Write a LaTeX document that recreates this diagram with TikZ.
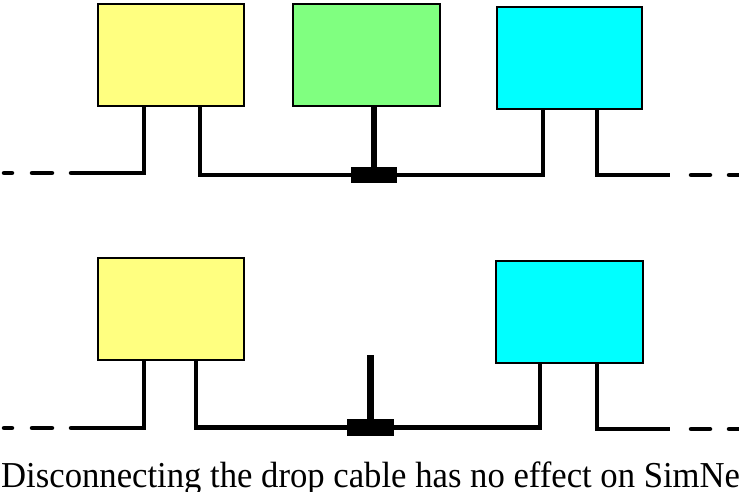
\documentclass[tikz,border=0pt]{standalone}
\usepackage{fontspec}
\setmainfont{Liberation Serif}
\usetikzlibrary{calc}
\definecolor{stationyellow}{HTML}{FFFF80}
\definecolor{stationgreen}{HTML}{80FF80}
\definecolor{stationcyan}{HTML}{00FFFF}
\tikzset{
  station/.style={draw, line width=2pt, inner sep=0pt, minimum width=146pt, minimum height=102pt},
  cable/.style={line width=4.5pt},
  dropcable/.style={line width=6.5pt},
  tap/.style={fill=black, inner sep=0pt, minimum width=46pt, minimum height=16pt}
}
\begin{document}
\begin{tikzpicture}[x=1pt,y=-1pt]
\useasboundingbox (0,0) rectangle (739,492);
\clip (0,0) rectangle (739,492);
% connected station
\node [station, fill=stationyellow] (ya) at (171,55.5){};
\node [station, fill=stationgreen, minimum width=147pt] (ga) at (366.5,55.5){};
\node [station, fill=stationcyan, minimum width=145pt] (ca) at (569.5,58){};
\node [tap] (tapa) at (374,175){};
\coordinate (la) at (88,173);
\coordinate (ra) at (670,175);
\draw [cable] ($(ya.south west)+(47,0)$) |- (la);
\draw [cable] ($(ya.south west)+(103,0)$) |- (tapa.west);
\draw [cable] (tapa.east) -| ($(ca.south west)+(47,0)$);
\draw [cable] ($(ca.south west)+(101,0)$) |- (ra);
\draw [dropcable] (tapa.north |- ga.south) -- (tapa.north);
\draw [cable, line cap=round] (4,173)--(12,173) (32,173)--(52,173) (71,173)--(88,173);
\draw [cable, line cap=round] (691,175)--(710,175) (729,175)--(745,175);

% disconnected drop cable
\node [station, fill=stationyellow] (yb) at (171,309){};
\node [station, fill=stationcyan, minimum width=147pt] (cb) at (569.5,312){};
\node [tap, minimum width=47pt, minimum height=17pt] (tapb) at (370.5,427.5){};
\coordinate (lb) at (88,428);
\coordinate (rb) at (670,429);
\coordinate (endb) at (370.5,355);
\draw [cable] ($(yb.south west)+(47,0)$) |- (lb);
\draw [cable] ($(yb.south west)+(99,0)$) |- (tapb.west);
\draw [cable] (tapb.east) -| ($(cb.south west)+(45,0)$);
\draw [cable] ($(cb.south west)+(102,0)$) |- (rb);
\draw [dropcable] (endb) -- (tapb.north);
\draw [cable, line cap=round] (4,428)--(12,428) (32,428)--(52,428) (71,428)--(88,428);
\draw [cable, line cap=round] (691,429)--(710,429) (729,429)--(745,429);

\node [anchor=base west, inner sep=0pt, font=\fontsize{36.5}{40}\selectfont] (caption) at (1,487) {\scalebox{0.95}[1]{Disconnecting the drop cable has no effect on SimNet}};
\end{tikzpicture}
\end{document}
